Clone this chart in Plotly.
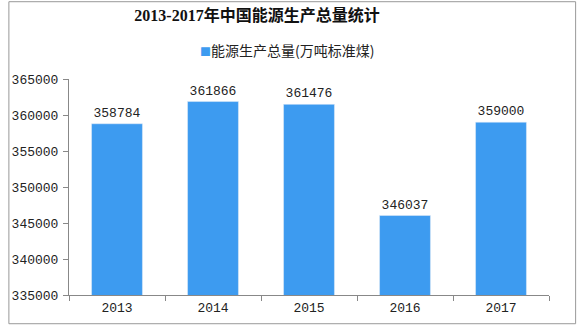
import plotly.graph_objects as go

years = ["2013", "2014", "2015", "2016", "2017"]
values = [358784, 361866, 361476, 346037, 359000]
series_name = "能源生产总量(万吨标准煤)"
title = "2013-2017年中国能源生产总量统计"
y_ticks = [335000, 340000, 345000, 350000, 355000, 360000, 365000]

W, H = 578, 328
L, R, T, B = 62, 29, 79, 31
pw, ph = W - L - R, H - T - B
bar_color = "#3d9bf0"

mono = "Liberation Mono, DejaVu Sans Mono, monospace"

fig = go.Figure()
fig.add_trace(go.Bar(
    x=years, y=values, name=series_name,
    marker_color=bar_color, width=0.53,
    text=[str(v) for v in values], textposition="outside",
    textfont=dict(size=13, color="#222", family=mono),
    cliponaxis=False, showlegend=False,
))
fig.update_layout(
    width=W, height=H,
    margin=dict(l=L, r=R, t=T, b=B),
    paper_bgcolor="white", plot_bgcolor="white",
    title=dict(text="<b>" + title + "</b>", x=257 / W, xanchor="center",
               y=1 - 15 / H, yanchor="middle",
               font=dict(size=16, color="#111", family="Liberation Serif, Noto Sans CJK SC, serif")),
    xaxis=dict(showline=True, linecolor="#888", linewidth=1, ticks="outside",
               tickson="boundaries", ticklen=5, tickcolor="#888",
               tickfont=dict(size=13, color="#222", family=mono),
               showgrid=False),
    yaxis=dict(range=[335000, 365000], tickvals=y_ticks,
               ticktext=[str(v) for v in y_ticks], showline=True,
               linecolor="#888", linewidth=1, ticks="outside", ticklen=5,
               tickcolor="#888", showgrid=False, zeroline=False,
               ticklabelstandoff=2,
               tickfont=dict(size=13, color="#222", family=mono)),
)
# legend as annotation (marker square + label)
fig.add_annotation(
    xref="paper", yref="paper", x=(193 - L) / pw, xanchor="left",
    y=(H - B - 50) / ph, yanchor="middle", showarrow=False,
    text="<span style='color:%s;font-size:11px'>■</span>%s" % (bar_color, series_name),
    font=dict(size=14, color="#222", family="Noto Sans CJK SC, sans-serif"),
)
# outer border
fig.add_shape(type="rect", xref="paper", yref="paper",
              x0=(1 - L) / pw, x1=(W - 2 - L) / pw,
              y0=(H - B - (H - 2)) / ph, y1=(H - B - 1) / ph,
              line=dict(color="#999", width=1), fillcolor="rgba(0,0,0,0)", layer="above")
fig.write_html("out.html")
